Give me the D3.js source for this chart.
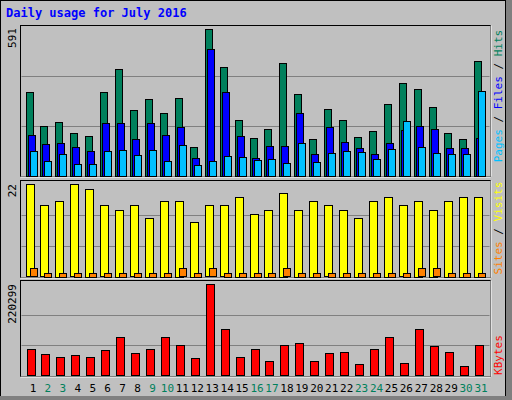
<!DOCTYPE html>
<html><head><meta charset="utf-8">
<script src="https://cdn.jsdelivr.net/npm/d3@7"></script>
<style>body{margin:0;background:#fff}svg{display:block}text{font-family:"DejaVu Sans Mono",monospace}</style>
</head><body><svg id="c" width="512" height="400"></svg>
<script>
// daily values
const days = d3.range(1, 32);
const weekend = [2, 3, 9, 10, 16, 17, 23, 24, 30, 31];
const hits = [336,200,216,172,160,336,429,264,308,252,312,115,591,437,224,152,188,453,328,148,268,224,156,180,288,373,349,276,172,148,461];
const files = [164,127,131,115,99,212,212,148,212,164,196,71,509,336,160,71,119,119,252,87,196,135,111,87,131,184,200,188,111,111,152];
const pages = [99,59,87,47,47,99,103,83,103,59,123,43,59,79,75,63,67,51,131,55,91,99,95,67,107,220,115,91,87,87,340];
const visits = [22,17,18,22,21,17,16,17,14,18,18,13,17,17,19,15,16,20,16,18,17,16,14,18,19,17,18,16,18,19,19];
const sites = [2,1,1,1,1,1,1,1,1,1,2,1,2,1,1,1,1,2,1,1,1,1,1,1,1,1,2,2,1,1,1];
const kbytes = [63515,51456,44220,49044,44220,61104,92460,53868,63515,92460,73164,41808,220299,111757,44220,63515,34572,73164,77988,34572,53868,56280,27336,63515,92460,29748,111757,70752,56280,22512,73164];

const svg = d3.select('#c');
svg.append('rect').attr('width', 512).attr('height', 400).attr('fill', '#c0c0c0');
svg.append('rect').attr('x', 0.5).attr('y', 0.5).attr('width', 505).attr('height', 398).attr('fill', 'none').attr('stroke', '#000');
svg.append('rect').attr('x', 506).attr('y', 0).attr('width', 6).attr('height', 400).attr('fill', '#808080');
svg.append('rect').attr('x', 0).attr('y', 396).attr('width', 512).attr('height', 4).attr('fill', '#808080');

svg.append('text').attr('x', 6).attr('y', 17).text('Daily usage for July 2016')
  .attr('fill', '#0000ff').attr('font-weight', 'bold').attr('font-size', 12);

const x = d3.scaleBand().domain(days).range([20.5, 483.5]).paddingInner(0);
const L = 20.5, R = 490.5;

function panel(top, bot, maxLabel, labelY) {
  svg.append('rect').attr('x', L).attr('y', top).attr('width', R - L).attr('height', bot - top)
    .attr('fill', '#c0c0c0').attr('stroke', '#000');
  svg.append('line').attr('x1', L).attr('x2', R).attr('y1', bot + 0.5).attr('y2', bot + 0.5).attr('stroke', '#fff');
  svg.append('line').attr('x1', R + 0.5).attr('x2', R + 0.5).attr('y1', top).attr('y2', bot).attr('stroke', '#fff');
  svg.append('text').attr('transform', `translate(16,${labelY}) rotate(-90)`).attr('font-size', 11)
    .attr('text-anchor', 'end').text(maxLabel);
}
function grid(y, vals) {
  vals.forEach(v => svg.append('line').attr('x1', L + 1).attr('x2', R - 1)
    .attr('y1', Math.round(y(v)) + 0.5).attr('y2', Math.round(y(v)) + 0.5).attr('stroke', '#808080'));
}
function bars(data, y, off, w, color) {
  svg.append('g').selectAll('rect').data(data).join('rect')
    .attr('x', (d, i) => Math.round(x(days[i])) + off + 0.5)
    .attr('y', d => Math.round(y(d)) + 0.5)
    .attr('width', w).attr('height', d => Math.max(0, Math.round(y(0) - y(d))))
    .attr('fill', color).attr('stroke', '#000');
}
function sideLabel(cx, cy, parts) {
  const t = svg.append('text').attr('transform', `translate(${cx},${cy}) rotate(-90)`)
    .attr('font-size', 11).attr('text-anchor', 'middle');
  parts.forEach(p => t.append('tspan').attr('fill', p[1]).text(p[0]));
}

// top: hits / files / pages
panel(25.5, 176.5, '591', 28);
const y1 = d3.scaleLinear().domain([0, 591]).range([176, 29]);
grid(y1, [591 / 3 * 1.02, 591 / 3 * 2.04]);
bars(hits, y1, 5, 7, '#00805c');
bars(files, y1, 7, 7, '#0000ff');
bars(pages, y1, 9, 7, '#00c0ff');
sideLabel(502, 96, [['Pages', '#00c0ff'], [' / ', '#000'], ['Files', '#0000ff'], [' / ', '#000'], ['Hits', '#00805c']]);

// middle: visits / sites
panel(180.5, 277.5, '22', 184);
const y2 = d3.scaleLinear().domain([0, 22]).range([276.7, 184.3]);
grid(y2, [22 / 3, 44 / 3]);
bars(visits, y2, 5, 8, '#ffff00');
bars(sites, y2, 9, 7, '#ff8000');
sideLabel(502, 228, [['Sites', '#ff8000'], [' / ', '#000'], ['Visits', '#ffff00']]);

// bottom: kbytes
panel(280.5, 376.5, '220299', 284);
const y3 = d3.scaleLinear().domain([0, 220299]).range([375.7, 284.3]);
grid(y3, [220299 / 3, 220299 * 2 / 3]);
bars(kbytes, y3, 6, 8, '#ff0000');
sideLabel(502, 355, [['KBytes', '#ff0000']]);

svg.append('g').selectAll('text').data(days).join('text')
  .attr('x', d => x(d) + 12.5).attr('y', 392).attr('text-anchor', 'middle').attr('font-size', 11)
  .attr('fill', d => weekend.includes(d) ? '#00805c' : '#000').text(d => d);
</script></body></html>
